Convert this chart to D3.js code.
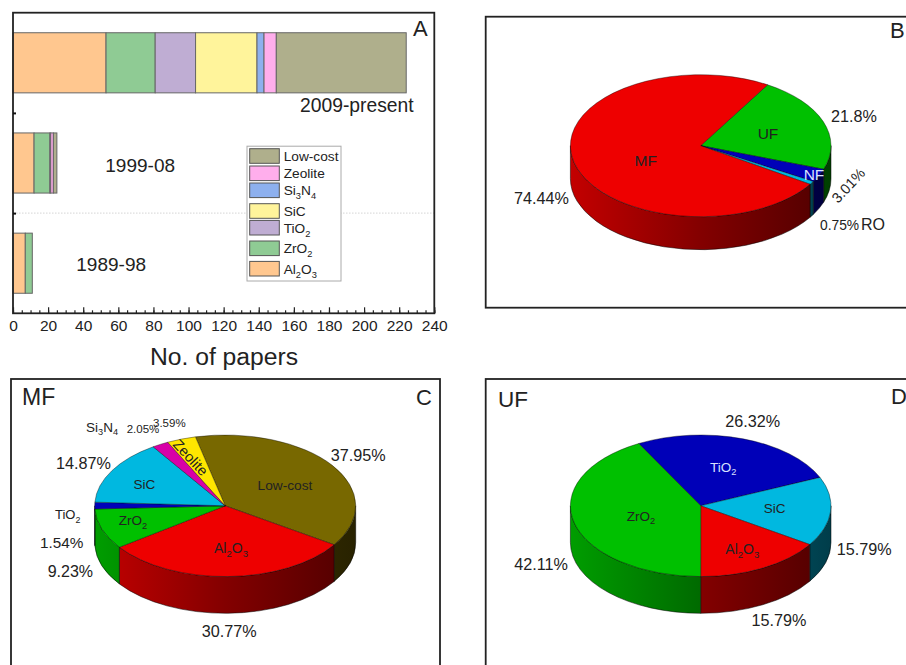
<!DOCTYPE html>
<html>
<head>
<meta charset="utf-8">
<style>
  html, body { margin: 0; padding: 0; background: #fff; overflow: hidden; }
  svg { display: block; font-family: "Liberation Sans", Arial, sans-serif; }
</style>
<script src="https://cdn.jsdelivr.net/npm/d3@7"></script>
</head>
<body>
<div id="chart"></div>
<script>
// panel A data: papers per period and membrane material
const periods = ['1989-98', '1999-08', '2009-present'];
const materials = ['Al2O3', 'ZrO2', 'TiO2', 'SiC', 'Si3N4', 'Zeolite', 'Low-cost'];
const papers1989 = [7, 4, 0, 0, 0, 0, 0];
const papers1999 = [12, 9, 0.5, 0, 0, 1.5, 2];
const papers2009 = [53, 28, 23, 35, 4, 7, 74];
const xTicks = [0, 20, 40, 60, 80, 100, 120, 140, 160, 180, 200, 220, 240];

// panel B data: share of papers per process
const processNames = ['UF', 'NF', 'RO', 'MF'];
const processShares = [21.8, 3.01, 0.75, 74.44];

// panel C data: MF materials
const mfNames = ['Low-cost', 'Al2O3', 'ZrO2', 'TiO2', 'SiC', 'Si3N4', 'Zeolite'];
const mfShares = [37.95, 30.77, 9.23, 1.54, 14.87, 2.05, 3.59];

// panel D data: UF materials
const ufNames = ['TiO2', 'SiC', 'Al2O3', 'ZrO2'];
const ufShares = [26.32, 15.79, 15.79, 42.11];

// bar and legend fills
const barColors = ['#ffc78f', '#8fcb94', '#bfadd3', '#fff49b', '#8db0ee', '#ffaeec', '#afaf8c'];

// pie fills
const pieColors = {
  'MF': '#ee0000', 'UF': '#00c000', 'NF': '#0000b8', 'RO': '#00b8e0',
  'Al2O3': '#ee0000', 'ZrO2': '#00c000', 'TiO2': '#0000b8', 'SiC': '#00b8e0',
  'Si3N4': '#d800a8', 'Zeolite': '#ffe600', 'Low-cost': '#786800'
};

const svg = d3.select('#chart').append('svg')
  .attr('width', 906)
  .attr('height', 665);

const textColor = '#222';

// write a label, chemical formulas get real subscripts
function addText(parent, str, x, y, size, opts) {
  opts = opts || {};
  let t = parent.append('text')
    .attr('x', x)
    .attr('y', y)
    .attr('font-size', size)
    .attr('fill', opts.fill || textColor)
    .attr('text-anchor', opts.anchor || 'start');
  if (opts.rotate) t.attr('transform', 'rotate(' + opts.rotate + ' ' + x + ' ' + y + ')');
  if (/^[A-Z][a-z]?\d/.test(str) || /^[A-Z][a-z]?[A-Z]\d/.test(str)) {
    let afterSub = false;
    str.split(/(\d)/).filter(s => s !== '').forEach(part => {
      let isSub = /\d/.test(part);
      let span = t.append('tspan').text(part);
      if (isSub) {
        span.attr('font-size', size * 0.68).attr('dy', size * 0.28);
      } else if (afterSub) {
        span.attr('dy', -size * 0.28);
      }
      afterSub = isSub;
    });
  } else {
    t.text(str);
  }
  return t;
}

function addFrame(x0, y0, x1, y1) {
  svg.append('rect')
    .attr('x', x0)
    .attr('y', y0)
    .attr('width', x1 - x0)
    .attr('height', y1 - y0)
    .attr('fill', 'none')
    .attr('stroke', '#222')
    .attr('stroke-width', 1.8);
}

// ---------- panel A: stacked bars ----------
const plot = {left: 13, right: 434.3, top: 12.7, bottom: 313.3};
const x = d3.scaleLinear().domain([0, 240]).range([plot.left, plot.right]);
const y = d3.scaleLinear().domain([0, 3]).range([plot.bottom, plot.top]);

const rows = [papers1989, papers1999, papers2009].map((values, i) => {
  let row = {period: periods[i], index: i};
  materials.forEach((m, j) => { row[m] = values[j]; });
  return row;
});
const stacked = d3.stack().keys(materials)(rows);
const barColor = d3.scaleOrdinal().domain(materials).range(barColors);

// faint dotted separator, sits behind the legend
svg.append('line')
  .attr('x1', plot.left)
  .attr('x2', plot.right)
  .attr('y1', y(1))
  .attr('y2', y(1))
  .attr('stroke', '#ccc')
  .attr('stroke-width', 0.8)
  .attr('stroke-dasharray', '1.5 1.5');

svg.append('g')
  .selectAll('g')
  .data(stacked)
  .enter().append('g')
  .attr('fill', d => barColor(d.key))
  .attr('stroke', '#666')
  .attr('stroke-width', 1)
  .selectAll('rect')
  .data(d => d.filter(s => s[1] > s[0]))
  .enter().append('rect')
  .attr('x', d => x(d[0]))
  .attr('width', d => x(d[1]) - x(d[0]))
  .attr('y', d => y(d.data.index + 0.8))
  .attr('height', d => y(d.data.index + 0.2) - y(d.data.index + 0.8));

addFrame(plot.left, plot.top, plot.right, plot.bottom);

// minor ticks every 5, major ticks every 20, all pointing inward
let minorAxis = svg.append('g')
  .attr('transform', 'translate(0,' + plot.bottom + ')')
  .call(d3.axisBottom(x).tickValues(d3.range(0, 241, 5)).tickSize(-3).tickFormat(''));
minorAxis.select('.domain').remove();
minorAxis.selectAll('line').attr('stroke', '#222').attr('stroke-width', 1.2);

let majorAxis = svg.append('g')
  .attr('transform', 'translate(0,' + plot.bottom + ')')
  .call(d3.axisBottom(x).tickValues(xTicks).tickSize(-6).tickPadding(7));
majorAxis.select('.domain').remove();
majorAxis.selectAll('line').attr('stroke', '#222').attr('stroke-width', 1.2);
majorAxis.selectAll('text')
  .attr('font-family', '"Liberation Sans", Arial, sans-serif')
  .attr('font-size', 15.5)
  .attr('fill', textColor);

let yAxis = svg.append('g')
  .attr('transform', 'translate(' + plot.left + ',0)')
  .call(d3.axisLeft(y).tickValues([1, 2]).tickSize(-3).tickFormat(''));
yAxis.select('.domain').remove();
yAxis.selectAll('line').attr('stroke', '#111').attr('stroke-width', 2);

addText(svg, 'No. of papers', 224, 365, 24.7, {anchor: 'middle'});
addText(svg, 'A', 413, 36, 22);
addText(svg, periods[2], 300, 112, 19.3);
addText(svg, periods[1], 105.3, 171.7, 19);
addText(svg, periods[0], 76.3, 270.7, 19);

// legend, rows are hand placed in the original so the gaps differ
const legendRowY = [156, 173.3, 190.3, 211, 227.7, 248.3, 268.7];
let legend = svg.append('g');
legend.append('rect')
  .attr('x', 247)
  .attr('y', 146.2)
  .attr('width', 94)
  .attr('height', 134.8)
  .attr('fill', '#fff')
  .attr('stroke', '#aaa')
  .attr('stroke-width', 1);
materials.slice().reverse().forEach((m, i) => {
  legend.append('rect')
    .attr('x', 249.7)
    .attr('y', legendRowY[i] - 7.3)
    .attr('width', 29.6)
    .attr('height', 14.6)
    .attr('fill', barColor(m))
    .attr('stroke', '#555')
    .attr('stroke-width', 1);
  addText(legend, m, 283.7, legendRowY[i] + 5, 13.7);
});

// ---------- 3D looking pies ----------
let gradientCount = 0;
const defs = svg.append('defs');

function addSideGradient(color, cx, rx) {
  let id = 'side' + (gradientCount++);
  let c = d3.rgb(color);
  let shade = k => d3.rgb(c.r * k, c.g * k, c.b * k).formatHex();
  let grad = defs.append('linearGradient')
    .attr('id', id)
    .attr('gradientUnits', 'userSpaceOnUse')
    .attr('x1', cx - rx)
    .attr('x2', cx + rx)
    .attr('y1', 0)
    .attr('y2', 0);
  [[0, 0.82], [0.5, 0.55], [1, 0.33]].forEach(s => {
    grad.append('stop').attr('offset', s[0]).attr('stop-color', shade(s[1]));
  });
  return 'url(#' + id + ')';
}

// pieOpts: cx, cy, rx, ry, depth, startDeg
function drawPie(names, shares, pieOpts) {
  const rx = pieOpts.rx, ry = pieOpts.ry, depth = pieOpts.depth;
  const start = pieOpts.startDeg * Math.PI / 180;
  const pie = d3.pie().sort(null).startAngle(start).endAngle(start + 2 * Math.PI);
  const slices = pie(shares);
  const g = svg.append('g').attr('transform', 'translate(' + pieOpts.cx + ',' + pieOpts.cy + ')');

  // angles run clockwise from north, same as d3.arc
  const px = a => rx * Math.sin(a);
  const py = a => -ry * Math.cos(a);

  // wall: only the part of each slice on the front half of the ellipse
  slices.forEach((s, i) => {
    [-1, 0, 1].forEach(k => {
      let lo = Math.max(s.startAngle, Math.PI / 2 + 2 * Math.PI * k);
      let hi = Math.min(s.endAngle, 3 * Math.PI / 2 + 2 * Math.PI * k);
      if (hi <= lo) return;
      let d = 'M' + px(lo) + ',' + py(lo) +
        'A' + rx + ',' + ry + ' 0 0 1 ' + px(hi) + ',' + py(hi) +
        'L' + px(hi) + ',' + (py(hi) + depth) +
        'A' + rx + ',' + ry + ' 0 0 0 ' + px(lo) + ',' + (py(lo) + depth) + 'Z';
      g.append('path')
        .attr('d', d)
        .attr('fill', addSideGradient(pieColors[names[i]], 0, rx))
        .attr('stroke', '#000')
        .attr('stroke-width', 0.5);
    });
  });

  // top face is a circular arc squeezed into an ellipse
  const arc = d3.arc().innerRadius(0).outerRadius(rx);
  g.append('g')
    .attr('transform', 'scale(1,' + (ry / rx) + ')')
    .selectAll('path')
    .data(slices)
    .enter().append('path')
    .attr('d', arc)
    .attr('fill', (d, i) => pieColors[names[i]])
    .attr('stroke', '#000')
    .attr('stroke-width', 0.5);
}

const pct = v => v + '%';

// ---------- panel B ----------
addFrame(485.7, 16.7, 930, 307.7);
addText(svg, 'B', 890, 38, 22);
drawPie(processNames, processShares, {cx: 700.7, cy: 145.7, rx: 130.3, ry: 71, depth: 33, startDeg: 30.9});
addText(svg, 'UF', 768, 139, 15.5, {anchor: 'middle'});
addText(svg, 'MF', 645.7, 165.7, 15.5, {anchor: 'middle'});
addText(svg, 'NF', 814, 180, 15.5, {anchor: 'middle', fill: '#d8e4ff'});
addText(svg, pct(processShares[0]), 831, 121.7, 16.2);
addText(svg, pct(processShares[3]), 514, 204, 16.2);
addText(svg, pct(processShares[1]), 838, 204, 14.5, {rotate: -47});
addText(svg, pct(processShares[2]), 820, 230, 13.8);
addText(svg, 'RO', 861, 230, 16);

// ---------- panel C ----------
addFrame(11, 379, 440, 690);
addText(svg, 'MF', 22, 405, 23);
addText(svg, 'C', 416, 405, 22);
drawPie(mfNames, mfShares, {cx: 225.2, cy: 505.8, rx: 130.5, ry: 70.8, depth: 36.7, startDeg: -13.2});
addText(svg, 'Low-cost', 285, 490, 13.7, {anchor: 'middle'});
addText(svg, 'Al2O3', 231, 553.3, 14, {anchor: 'middle'});
addText(svg, 'ZrO2', 133, 525, 13.5, {anchor: 'middle'});
addText(svg, 'SiC', 144.3, 489.3, 13.5, {anchor: 'middle'});
addText(svg, 'Zeolite', 172, 445, 14.5, {rotate: 47});
addText(svg, 'TiO2', 55, 519, 13);
addText(svg, 'Si3N4', 86, 431.7, 13.5);
addText(svg, pct(mfShares[0]), 330.7, 460.7, 16.2);
addText(svg, pct(mfShares[1]), 229.3, 636.7, 16.2, {anchor: 'middle'});
addText(svg, pct(mfShares[2]), 47.7, 577.3, 16);
addText(svg, pct(mfShares[3]), 40, 547.7, 15.3);
addText(svg, pct(mfShares[4]), 56, 469, 16.2);
addText(svg, pct(mfShares[5]), 126.7, 433.3, 11.5);
addText(svg, pct(mfShares[6]), 153, 426.7, 11.5);

// ---------- panel D ----------
addFrame(485.7, 379, 930, 690);
addText(svg, 'UF', 498, 407, 22.5);
addText(svg, 'D', 891, 404, 22);
drawPie(ufNames, ufShares, {cx: 700.7, cy: 505.8, rx: 130.3, ry: 70.8, depth: 36.7, startDeg: -28.4});
addText(svg, 'TiO2', 723.3, 471.7, 13.5, {anchor: 'middle', fill: '#d8e0ff'});
addText(svg, 'SiC', 774.7, 513.3, 13.5, {anchor: 'middle'});
addText(svg, 'Al2O3', 742.3, 554, 14, {anchor: 'middle'});
addText(svg, 'ZrO2', 641, 520.7, 13.5, {anchor: 'middle'});
addText(svg, pct(ufShares[0]), 752.7, 427.3, 16.2, {anchor: 'middle'});
addText(svg, pct(ufShares[1]), 836.7, 555, 16.2);
addText(svg, pct(ufShares[2]), 779, 626, 16.2, {anchor: 'middle'});
addText(svg, pct(ufShares[3]), 514.3, 570, 16.2);
</script>
</body>
</html>
